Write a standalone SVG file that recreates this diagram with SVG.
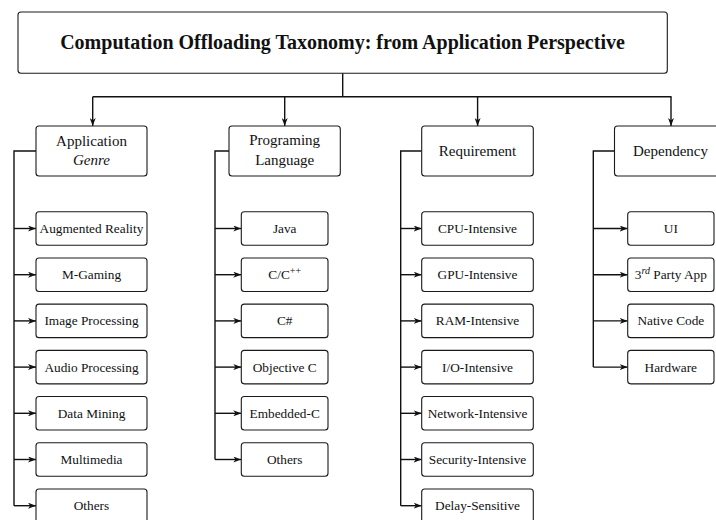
<svg xmlns="http://www.w3.org/2000/svg" width="716" height="520" viewBox="0 0 716 520">
<style>
.box{fill:#fff;stroke:#1a1a1a;stroke-width:1.1}
.t{font-family:"Liberation Serif","Times New Roman",serif;fill:#111;text-anchor:middle}
.title{font-size:20px;font-weight:bold}
.hd{font-size:15px}
.lf{font-size:13.3px}
.ln{fill:none;stroke:#111;stroke-width:1.4}
.ar{fill:none;stroke:#111;stroke-width:1.4;marker-end:url(#ah)}
</style>
<defs>
<marker id="ah" viewBox="0 0 8 6" refX="8" refY="3" markerWidth="8" markerHeight="6" markerUnits="userSpaceOnUse" orient="auto">
<path d="M0,0 L8,3 L0,6 L2.2,3 Z" fill="#111"/>
</marker>
</defs>

<g id="connectors">
<path class="ln" d="M342.7,73 V96.7 M92.7,96.7 H671.5"/>
<path class="ar" d="M92.7,96.7 V126"/>
<path class="ar" d="M284.7,96.7 V126"/>
<path class="ar" d="M477.6,96.7 V126"/>
<path class="ar" d="M671,96.7 V126"/>
<!-- col1 -->
<path class="ln" d="M36,151 H14 V505.7"/>
<path class="ar" d="M14,228.5 H36"/>
<path class="ar" d="M14,274.7 H36"/>
<path class="ar" d="M14,320.9 H36"/>
<path class="ar" d="M14,367.1 H36"/>
<path class="ar" d="M14,413.3 H36"/>
<path class="ar" d="M14,459.5 H36"/>
<path class="ar" d="M14,505.7 H36"/>
<!-- col2 -->
<path class="ln" d="M229,151 H215 V459.5"/>
<path class="ar" d="M215,228.5 H241.3"/>
<path class="ar" d="M215,274.7 H241.3"/>
<path class="ar" d="M215,320.9 H241.3"/>
<path class="ar" d="M215,367.1 H241.3"/>
<path class="ar" d="M215,413.3 H241.3"/>
<path class="ar" d="M215,459.5 H241.3"/>
<!-- col3 -->
<path class="ln" d="M421.7,151 H400.7 V505.7"/>
<path class="ar" d="M400.7,228.5 H421.7"/>
<path class="ar" d="M400.7,274.7 H421.7"/>
<path class="ar" d="M400.7,320.9 H421.7"/>
<path class="ar" d="M400.7,367.1 H421.7"/>
<path class="ar" d="M400.7,413.3 H421.7"/>
<path class="ar" d="M400.7,459.5 H421.7"/>
<path class="ar" d="M400.7,505.7 H421.7"/>
<!-- col4 -->
<path class="ln" d="M614.5,151 H593.3 V367.1"/>
<path class="ar" d="M593.3,228.5 H627.7"/>
<path class="ar" d="M593.3,274.7 H627.7"/>
<path class="ar" d="M593.3,320.9 H627.7"/>
<path class="ar" d="M593.3,367.1 H627.7"/>
</g>

<g id="root">
<rect class="box" x="18" y="12" width="649.3" height="61.3" rx="3"/>
<text class="t title" x="342.5" y="49">Computation Offloading Taxonomy: from Application Perspective</text>
</g>

<!-- Column 1 -->
<g id="app-genre">
<rect class="box" x="36" y="126" width="111" height="50" rx="3"/>
<text class="t hd" x="91.5" y="145.7">Application</text>
<text class="t hd" x="91.5" y="165" font-style="italic">Genre</text>
</g>
<g id="augmented-reality"><rect class="box" x="36" y="211.75" width="111" height="33.5" rx="3"/><text class="t lf" x="91.5" y="233">Augmented Reality</text></g>
<g id="m-gaming"><rect class="box" x="36" y="257.95" width="111" height="33.5" rx="3"/><text class="t lf" x="91.5" y="279.2">M-Gaming</text></g>
<g id="image-processing"><rect class="box" x="36" y="304.15" width="111" height="33.5" rx="3"/><text class="t lf" x="91.5" y="325.4">Image Processing</text></g>
<g id="audio-processing"><rect class="box" x="36" y="350.35" width="111" height="33.5" rx="3"/><text class="t lf" x="91.5" y="371.6">Audio Processing</text></g>
<g id="data-mining"><rect class="box" x="36" y="396.55" width="111" height="33.5" rx="3"/><text class="t lf" x="91.5" y="417.8">Data Mining</text></g>
<g id="multimedia"><rect class="box" x="36" y="442.75" width="111" height="33.5" rx="3"/><text class="t lf" x="91.5" y="464">Multimedia</text></g>
<g id="app-others"><rect class="box" x="36" y="488.95" width="111" height="33.5" rx="3"/><text class="t lf" x="91.5" y="510.2">Others</text></g>

<!-- Column 2 -->
<g id="prog-lang">
<rect class="box" x="229" y="126" width="111.3" height="50" rx="3"/>
<text class="t hd" x="284.7" y="145.3">Programing</text>
<text class="t hd" x="284.7" y="165">Language</text>
</g>
<g id="java"><rect class="box" x="241.3" y="211.75" width="86.7" height="33.5" rx="3"/><text class="t lf" x="284.7" y="233">Java</text></g>
<g id="c-cpp"><rect class="box" x="241.3" y="257.95" width="86.7" height="33.5" rx="3"/><text class="t lf" x="284.7" y="279.2">C/C<tspan dy="-5.5" font-size="10">++</tspan></text></g>
<g id="csharp"><rect class="box" x="241.3" y="304.15" width="86.7" height="33.5" rx="3"/><text class="t lf" x="284.7" y="325.4">C#</text></g>
<g id="objective-c"><rect class="box" x="241.3" y="350.35" width="86.7" height="33.5" rx="3"/><text class="t lf" x="284.7" y="371.6">Objective C</text></g>
<g id="embedded-c"><rect class="box" x="241.3" y="396.55" width="86.7" height="33.5" rx="3"/><text class="t lf" x="284.7" y="417.8">Embedded-C</text></g>
<g id="lang-others"><rect class="box" x="241.3" y="442.75" width="86.7" height="33.5" rx="3"/><text class="t lf" x="284.7" y="464">Others</text></g>

<!-- Column 3 -->
<g id="requirement">
<rect class="box" x="421.7" y="126" width="111.6" height="50" rx="3"/>
<text class="t hd" x="477.5" y="155.5">Requirement</text>
</g>
<g id="cpu"><rect class="box" x="421.7" y="211.75" width="111.6" height="33.5" rx="3"/><text class="t lf" x="477.5" y="233">CPU-Intensive</text></g>
<g id="gpu"><rect class="box" x="421.7" y="257.95" width="111.6" height="33.5" rx="3"/><text class="t lf" x="477.5" y="279.2">GPU-Intensive</text></g>
<g id="ram"><rect class="box" x="421.7" y="304.15" width="111.6" height="33.5" rx="3"/><text class="t lf" x="477.5" y="325.4">RAM-Intensive</text></g>
<g id="io"><rect class="box" x="421.7" y="350.35" width="111.6" height="33.5" rx="3"/><text class="t lf" x="477.5" y="371.6">I/O-Intensive</text></g>
<g id="network"><rect class="box" x="421.7" y="396.55" width="111.6" height="33.5" rx="3"/><text class="t lf" x="477.5" y="417.8">Network-Intensive</text></g>
<g id="security"><rect class="box" x="421.7" y="442.75" width="111.6" height="33.5" rx="3"/><text class="t lf" x="477.5" y="464">Security-Intensive</text></g>
<g id="delay"><rect class="box" x="421.7" y="488.95" width="111.6" height="33.5" rx="3"/><text class="t lf" x="477.5" y="510.2">Delay-Sensitive</text></g>

<!-- Column 4 -->
<g id="dependency">
<rect class="box" x="614.5" y="126" width="112" height="50" rx="3"/>
<text class="t hd" x="670.5" y="155.5">Dependency</text>
</g>
<g id="ui"><rect class="box" x="627.7" y="211.75" width="86.3" height="33.5" rx="3"/><text class="t lf" x="670.8" y="233">UI</text></g>
<g id="third-party"><rect class="box" x="627.7" y="257.95" width="86.3" height="33.5" rx="3"/><text class="t lf" x="670.8" y="279.2">3<tspan dy="-5.5" font-size="10" font-style="italic">rd</tspan><tspan dy="5.5"> Party App</tspan></text></g>
<g id="native"><rect class="box" x="627.7" y="304.15" width="86.3" height="33.5" rx="3"/><text class="t lf" x="670.8" y="325.4">Native Code</text></g>
<g id="hardware"><rect class="box" x="627.7" y="350.35" width="86.3" height="33.5" rx="3"/><text class="t lf" x="670.8" y="371.6">Hardware</text></g>
</svg>
